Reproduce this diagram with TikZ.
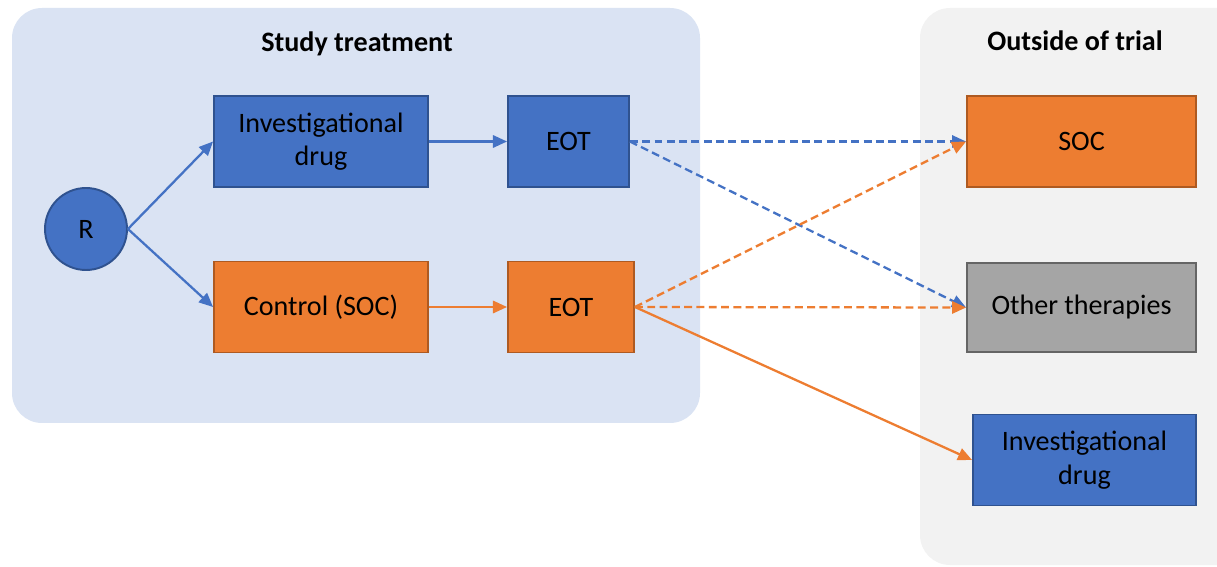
\documentclass[tikz,border=0pt]{standalone}
\usepackage{fontspec}
\setmainfont{Carlito}
\usetikzlibrary{arrows.meta}
\definecolor{panelblue}{HTML}{DAE3F3}
\definecolor{panelgray}{HTML}{F2F2F2}
\definecolor{boxblue}{HTML}{4472C4}
\definecolor{edgeblue}{HTML}{2F528F}
\definecolor{boxorange}{HTML}{ED7D31}
\definecolor{edgeorange}{HTML}{AE5A21}
\definecolor{boxgray}{HTML}{A5A5A5}
\definecolor{edgegray}{HTML}{656565}
\tikzset{
  txt/.style={font=\fontsize{16}{19}\selectfont, text=black, align=center, inner sep=0pt},
  bluebox/.style={txt, draw=edgeblue, fill=boxblue, line width=1.1pt, minimum height=1.82cm},
  orangebox/.style={txt, draw=edgeorange, fill=boxorange, line width=1.1pt, minimum height=1.82cm},
  graybox/.style={txt, draw=edgegray, fill=boxgray, line width=1.1pt, minimum height=1.78cm},
  title/.style={font=\fontsize{16}{19}\selectfont\bfseries, inner sep=0pt},
  bluearrow/.style={draw=boxblue, line width=1.3pt, -{Triangle[length=8pt,width=7pt]}},
  orangearrow/.style={draw=boxorange, line width=1.3pt, -{Triangle[length=8pt,width=7pt]}},
  dashline/.style={dash pattern=on 4.5pt off 2.5pt}
}
\begin{document}
\begin{tikzpicture}[x=0.02cm,y=-0.02cm]
\useasboundingbox (0,0) rectangle (1217,567);
%Panels
\fill [panelblue, rounded corners=0.6cm] (12,8) rectangle (700,423);
\fill [panelgray, rounded corners=0.6cm] (920,8) rectangle (1260,565);
\node [title] (studytitle) at (357,44) {Study treatment};
\node [title] (outsidetitle) at (1075,41) {Outside of trial};

%Study arms
\node [circle, txt, draw=edgeblue, fill=boxblue, line width=1.1pt, minimum size=1.64cm] (r) at (86,229) {R};
\node [bluebox, minimum width=4.28cm] (inv) at (321,141.5) {Investigational\\drug};
\node [orangebox, minimum width=4.28cm] (ctrl) at (321,307) {Control (SOC)};
\node [bluebox, minimum width=2.42cm] (eota) at (568.5,141.5) {EOT};
\node [orangebox, minimum width=2.52cm] (eotb) at (571,307) {EOT};

%Outside of trial
\node [orangebox, minimum width=4.58cm] (soc) at (1081.5,141.5) {SOC};
\node [graybox, minimum width=4.58cm] (other) at (1081.5,307.5) {Other therapies};
\node [bluebox, minimum width=4.46cm] (invout) at (1084.5,460) {Investigational\\drug};

%Arrows
\draw [bluearrow] (r.east) -- (inv.west);
\draw [bluearrow] (r.east) -- (ctrl.west);
\draw [bluearrow] (inv) -- (eota);
\draw [orangearrow] (ctrl) -- (eotb);
\draw [bluearrow, dashline] (eota.east) -- (soc.west);
\draw [bluearrow, dashline] (eota.east) -- (other.west);
\draw [orangearrow, dashline] (eotb.east) -- (soc.west);
\draw [orangearrow, dashline] (eotb.east) -- (other.west);
\draw [orangearrow] (eotb.east) -- (invout.west);
\end{tikzpicture}
\end{document}
